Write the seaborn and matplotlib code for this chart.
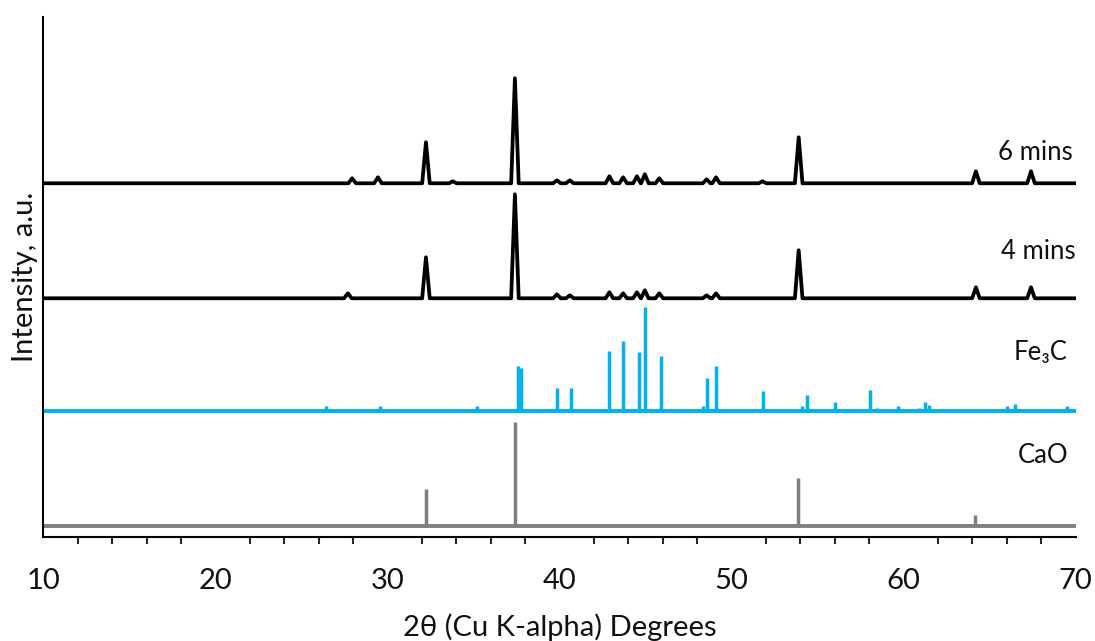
import numpy as np
import pandas as pd
import matplotlib
matplotlib.use("Agg")
import matplotlib.pyplot as plt
import seaborn as sns

# peak positions (2theta, deg) and heights
six_pos = [27.95, 29.45, 32.24, 33.8, 37.41, 39.85, 40.6, 42.9, 43.7, 44.5, 44.96, 45.8, 48.55, 49.1, 51.8, 53.9, 64.2, 67.4]
six_h = [5, 6, 41, 2, 105, 3, 3, 7, 6, 7, 9, 5, 4, 6, 2, 46, 12, 12]
four_pos = [27.7, 32.24, 37.41, 39.85, 40.6, 42.9, 43.7, 44.5, 44.96, 45.8, 48.55, 49.1, 53.9, 64.2, 67.4]
four_h = [5, 41, 104, 4, 3, 6, 5, 6, 8, 5, 3, 5, 48, 11, 11]

fe3c_pos = [26.43, 29.57, 35.2, 37.6, 37.75, 39.85, 40.66, 42.87, 43.68, 44.6, 44.96, 45.89, 48.33, 48.55,
            49.08, 51.81, 54.07, 54.37, 56.0, 58.03, 58.43, 59.7, 60.87, 61.22, 61.45, 64.82, 65.98, 66.45, 69.47]
fe3c_h = [5, 4.5, 5, 45, 43, 23, 23, 60, 70, 59, 104, 55, 5, 33,
          45, 20, 5, 16, 9, 21, 3, 5, 3, 9, 6, 1, 5, 7, 5]

cao_pos = [32.25, 37.4, 53.86, 64.14]
cao_h = [37, 104, 48, 11]

offsets = {"6 mins": 353.4, "4 mins": 238.4, "Fe3C": 126.0, "CaO": 10.7}

black = "#000000"
blue = "#00B0F0"
grey = "#7F7F7F"


def trace(pos, h, base, hw=0.22):
    xs, ys = [10.0], [base]
    for p, v in zip(pos, h):
        xs += [p - hw, p, p + hw]
        ys += [base, base + v, base]
    xs.append(70.0)
    ys.append(base)
    return pd.DataFrame({"x": xs, "y": ys})


sns.set_style("white")
plt.rcParams["font.family"] = ["Lato", "DejaVu Sans"]

fig = plt.figure(figsize=(10.95, 6.41), dpi=100)
ax = fig.add_axes([0.0395, 0.1627, 0.9429, 0.8113])

for name, pos, h in [("6 mins", six_pos, six_h), ("4 mins", four_pos, four_h)]:
    d = trace(pos, h, offsets[name])
    sns.lineplot(data=d, x="x", y="y", ax=ax, color=black, lw=2.7, sort=False,
                 estimator=None, solid_joinstyle="round")

# stick patterns
for pos, h, base, col in [(fe3c_pos, fe3c_h, offsets["Fe3C"], blue), (cao_pos, cao_h, offsets["CaO"], grey)]:
    ax.axhline(base, color=col, lw=2.8, xmin=0, xmax=1)
    ax.vlines(pos, base, np.array(h) + base, color=col, lw=2.5)

lab_kw = dict(ha="right", va="center", fontsize=18.5, color="#111111")
ax.text(69.83, 383.7, "6 mins", **lab_kw)
ax.text(70.0, 284.7, "4 mins", **lab_kw)
ax.text(69.5, 183.7, "Fe\u2083C", **lab_kw)
ax.text(69.55, 81.7, "CaO", **lab_kw)

ax.set_xlim(10, 70)
ax.set_ylim(0, 520)
ax.set_xticks(np.arange(10, 71, 10))
ax.set_xticks(np.arange(10, 71, 2), minor=True)
ax.set_yticks([])
ax.tick_params(axis="x", which="major", direction="out", length=6.5, width=1.5,
               labelsize=21, pad=16, colors="#111111")
ax.tick_params(axis="x", which="minor", direction="out", length=4.8, width=1.5, bottom=True)
for side in ["top", "right"]:
    ax.spines[side].set_visible(False)
for side in ["left", "bottom"]:
    ax.spines[side].set_color(black)
    ax.spines[side].set_linewidth(1.5)

ax.set_xlabel("2\u03b8 (Cu K-alpha) Degrees", fontsize=21, labelpad=14, color="#111111")
ax.set_ylabel("Intensity, a.u.", fontsize=21, labelpad=4, color="#111111")

fig.savefig("out.png", dpi=100)
